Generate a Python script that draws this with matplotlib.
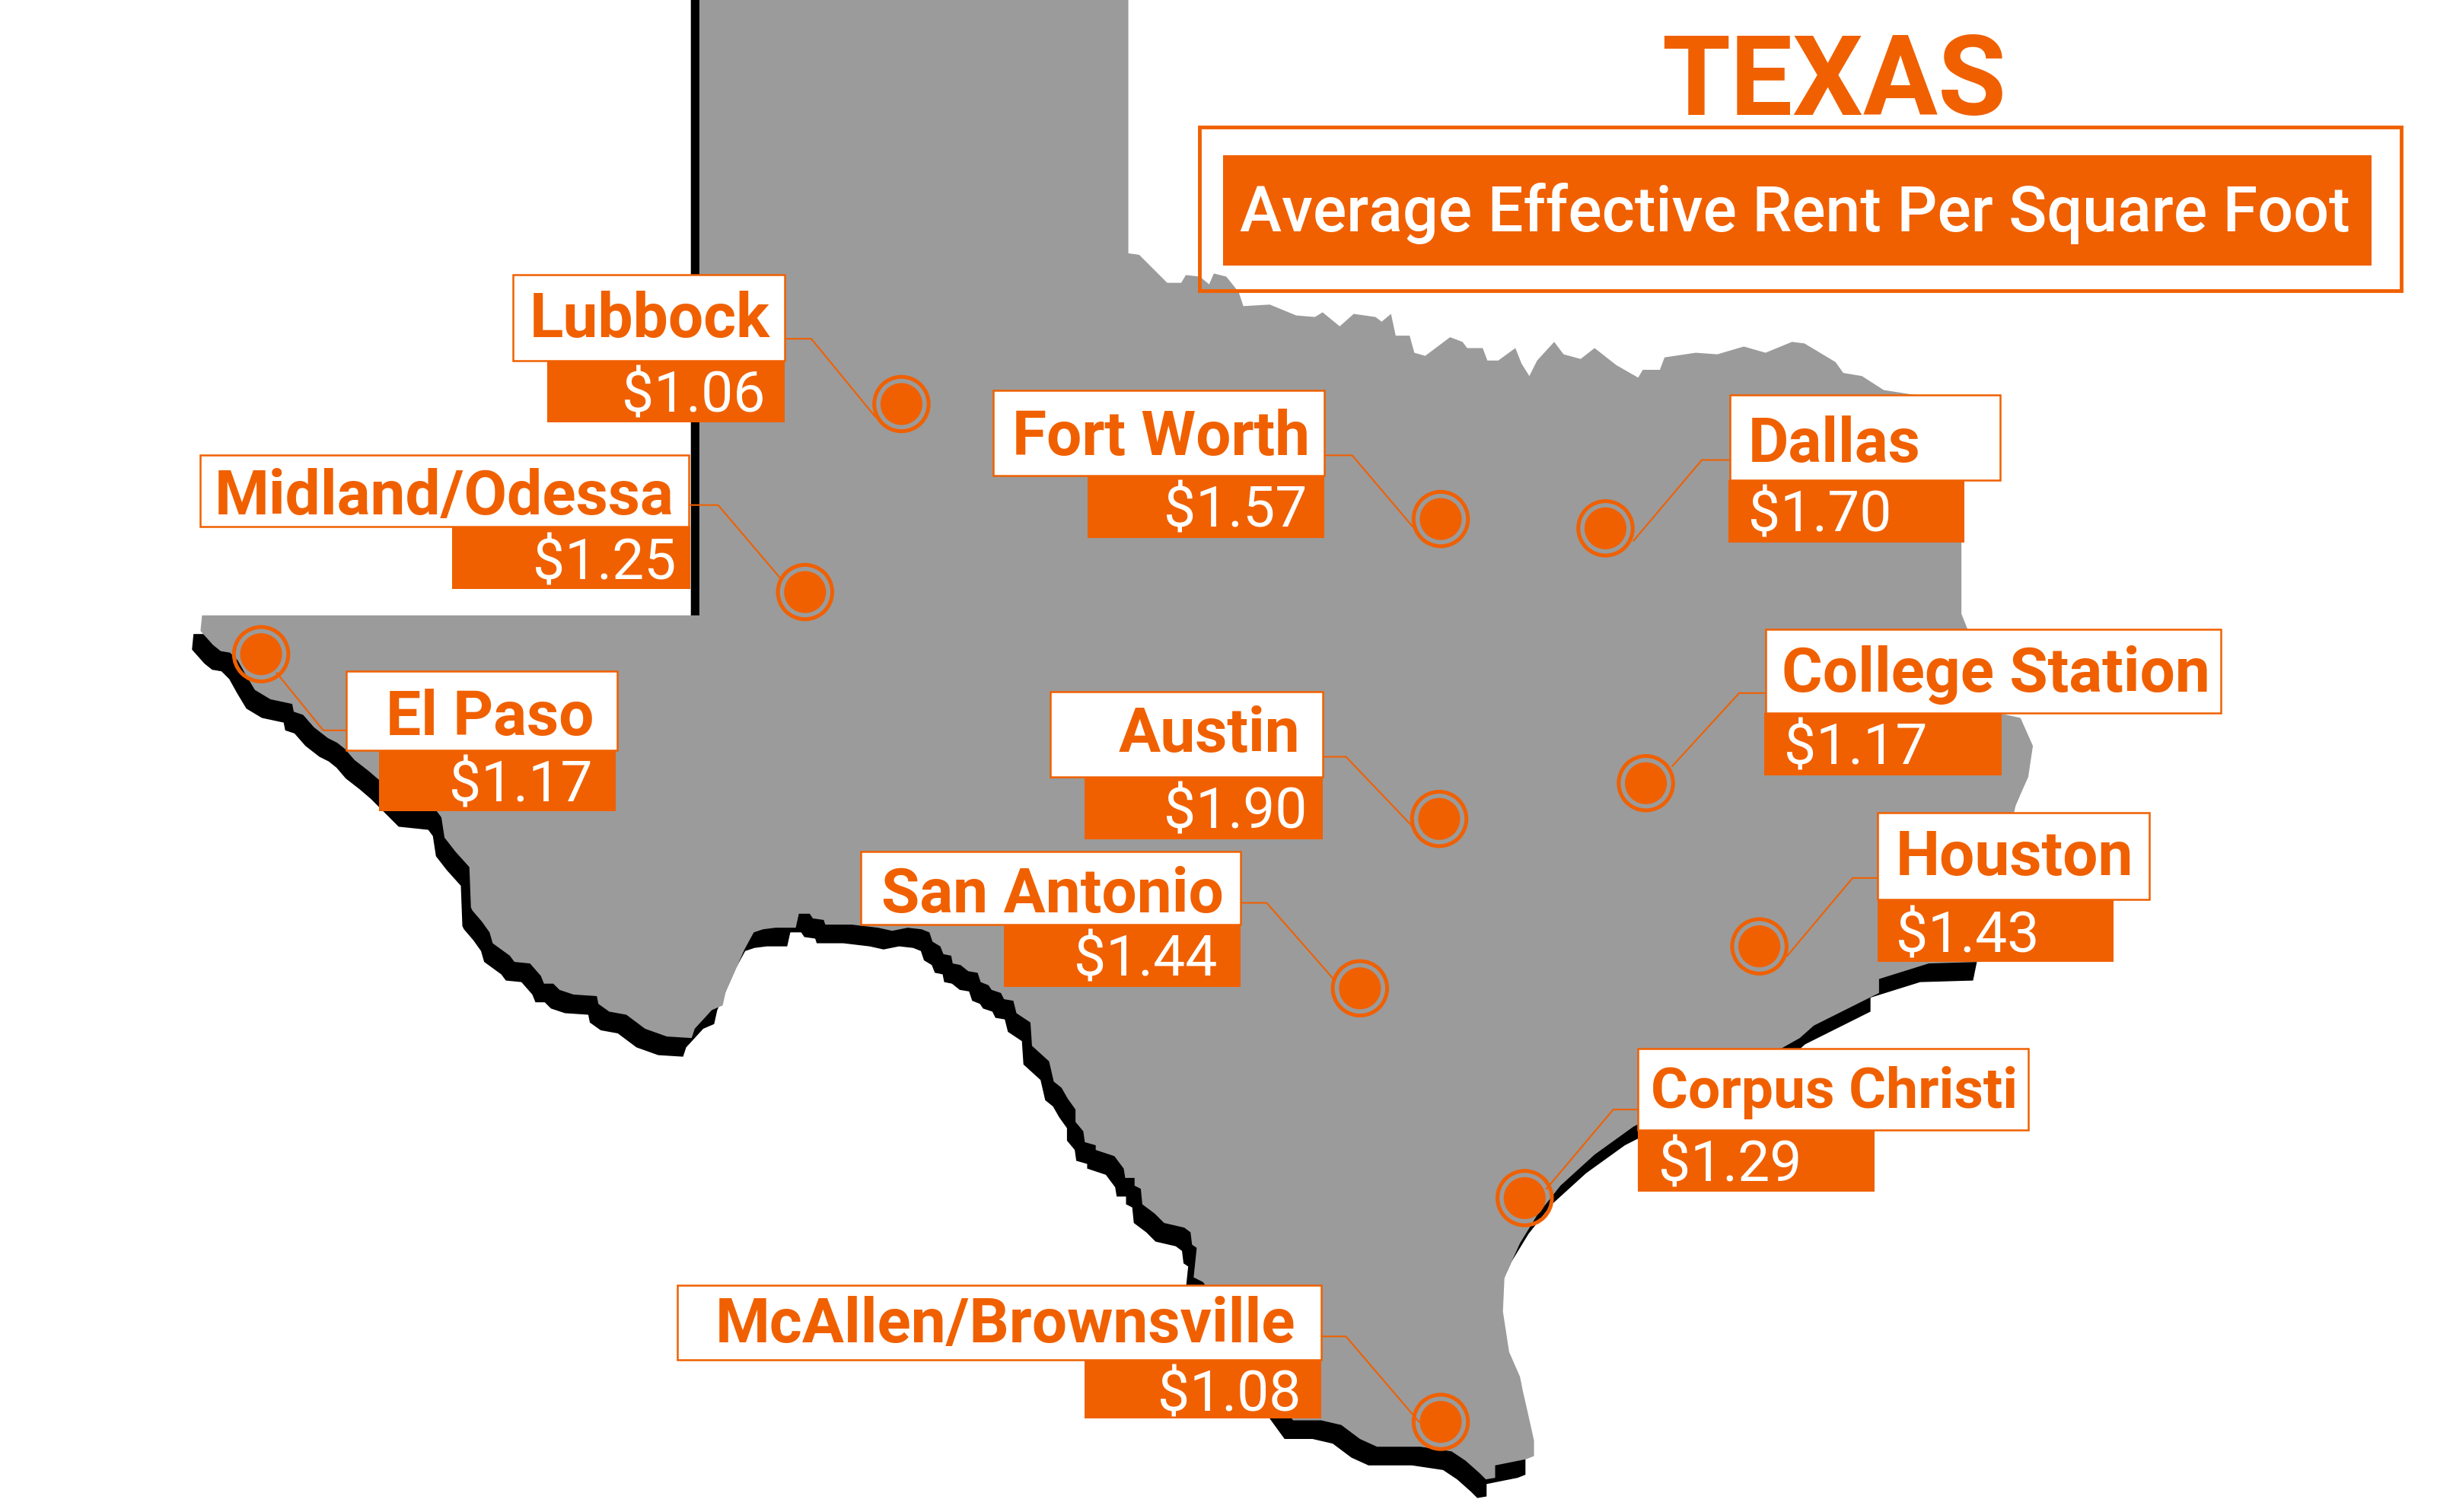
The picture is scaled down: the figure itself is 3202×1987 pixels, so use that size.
import matplotlib
matplotlib.use('Agg')
import matplotlib.pyplot as plt
from matplotlib.patches import Polygon, Rectangle, Circle

ORANGE = '#F06000'
GRAY = '#9B9B9B'

# cities and rents
cities = ['Lubbock', 'Fort Worth', 'Dallas', 'Midland/Odessa', 'El Paso', 'Austin',
          'College Station', 'San Antonio', 'Houston', 'Corpus Christi', 'McAllen/Brownsville']
rents = [1.06, 1.57, 1.70, 1.25, 1.17, 1.90, 1.17, 1.44, 1.43, 1.29, 1.08]

# where the cities sit on the map
city_x = [580, 927, 1033, 518, 168, 926, 1059, 875, 1132, 981, 927]
city_y = [260, 334, 340, 381, 421, 527, 504, 636, 609, 771, 915]

# label boxes, white part then orange part
name_box = [(330, 177, 505, 232), (639, 251, 852, 306), (1113, 254, 1287, 309),
            (129, 293, 443, 339), (223, 432, 397, 483), (676, 445, 851, 500),
            (1136, 405, 1429, 459), (554, 548, 798, 595), (1208, 523, 1383, 579),
            (1054, 675, 1305, 727), (436, 827, 850, 875)]
value_box = [(352, 232, 505, 272), (700, 306, 852, 346), (1112, 309, 1264, 349),
             (291, 339, 444, 379), (244, 483, 396, 522), (698, 500, 851, 540),
             (1135, 459, 1288, 499), (646, 595, 798, 635), (1208, 579, 1360, 619),
             (1054, 727, 1206, 767), (698, 875, 850, 913)]
name_pos = [(418, 217), (747, 293), (1180, 297), (286, 331), (315, 473), (778, 484),
            (1284, 445), (677, 587), (1296, 563), (1180, 713), (647, 864)]
value_pos = [(446, 265), (795, 339), (1171, 342), (389, 373), (335, 516), (795, 533),
             (1194, 492), (737, 628), (1266, 613), (1113, 760), (791, 908)]
# leader lines: box edge, elbow, end at the ring
leader_start = [(505, 218), (852, 293), (1112, 296), (444, 325), (222, 470), (851, 487),
                (1135, 446), (798, 581), (1208, 565), (1054, 714), (850, 860)]
leader_elbow = [(522, 218), (870, 293), (1095, 296), (462, 325), (208, 470), (866, 487),
                (1119, 446), (815, 581), (1192, 565), (1038, 714), (866, 860)]
leader_end = [(563, 268), (909, 339), (1051, 348), (502, 372), (178, 433), (908, 531),
              (1076, 493), (858, 630), (1150, 615), (995, 765), (913, 915)]

# Texas outline, traced clockwise from the top of the panhandle
north_edge = [(450, -30), (726, -30), (726, 163), (733, 164), (741, 172), (751, 182), (760, 182),
              (763, 177), (772, 178), (778, 183), (781, 176), (789, 178), (797, 188), (800, 197),
              (817, 196), (834, 203), (846, 204), (851, 201), (862, 210), (871, 202), (885, 204),
              (889, 207), (895, 202), (898, 216), (907, 216), (910, 227), (917, 229), (933, 217),
              (941, 220), (944, 224), (954, 224), (957, 232), (964, 232), (975, 224), (979, 234),
              (984, 242), (989, 232), (1000, 220), (1006, 228), (1017, 231), (1026, 224),
              (1040, 235), (1054, 243), (1057, 238), (1068, 238), (1071, 230), (1091, 227),
              (1105, 228), (1122, 223), (1136, 227), (1153, 220), (1161, 221), (1181, 233),
              (1186, 240), (1198, 242), (1212, 251), (1231, 254), (1262, 256)]
east_edge = [(1262, 395), (1268, 410), (1275, 430), (1282, 458), (1300, 462), (1308, 480),
             (1305, 500), (1297, 518), (1285, 570), (1275, 619)]
coast = [(1241, 620), (1209, 630), (1209, 639), (1203, 642), (1167, 660), (1158, 668), (1110, 695),
         (1051, 725), (1026, 743), (1004, 763), (989, 782), (978, 800), (968, 822), (967, 844),
         (971, 870), (978, 886), (980, 896), (983, 909), (987, 927), (987, 937), (982, 939),
         (962, 943), (962, 951), (956, 952), (952, 948), (943, 940), (934, 934), (914, 931),
         (886, 931), (875, 926), (863, 917), (850, 914), (832, 914)]
rio_grande = [(800, 870), (785, 840), (774, 825), (768, 822), (770, 803), (767, 801), (766, 793),
              (762, 790), (749, 787), (743, 781), (735, 775), (734, 765), (730, 763), (730, 758),
              (724, 758), (723, 752), (717, 744), (705, 740), (705, 737), (698, 735), (697, 728),
              (692, 722), (692, 714), (687, 707), (683, 700), (678, 696), (675, 683), (664, 673),
              (663, 658), (654, 652), (652, 644), (646, 643), (644, 639), (638, 637), (636, 634),
              (631, 632), (629, 626), (623, 625), (618, 621), (613, 620), (612, 615), (607, 614),
              (605, 609), (600, 606), (598, 600), (593, 598), (584, 597), (574, 599), (565, 597),
              (548, 595), (531, 595), (530, 592), (523, 591), (521, 588), (514, 588), (512, 597),
              (499, 597), (491, 598), (485, 600), (479, 611), (472, 627), (467, 638), (465, 647),
              (458, 650), (447, 662), (445, 668), (429, 667), (415, 662), (403, 653), (392, 651),
              (385, 646), (384, 641), (369, 640), (360, 637), (356, 633), (350, 633), (348, 628),
              (341, 620), (331, 619), (328, 615), (317, 607), (315, 600), (310, 593), (304, 586),
              (303, 584), (302, 558), (293, 548), (286, 539), (284, 526), (281, 522), (262, 520),
              (244, 502), (237, 496), (228, 489), (222, 482), (217, 478), (211, 475), (202, 468),
              (195, 460), (189, 458), (188, 453), (174, 450), (164, 444), (158, 434), (153, 425),
              (148, 420), (142, 419), (137, 415), (129, 406), (130, 396)]
west_edge = [(450, 396)]
outline = north_edge + east_edge + coast + rio_grande + west_edge

plt.rcParams['font.family'] = ['Roboto', 'DejaVu Sans']

fig = plt.figure(figsize=(32.02, 19.87), dpi=100)
ax = fig.add_axes([0, 0, 1, 1])
ax.set_xlim(0, 1568)
ax.set_ylim(973, 0)
ax.axis('off')

# black copy sits behind the gray one and shows along the south west edges
shadow = [(x - 5.5, y + 12) for x, y in outline]
ax.add_patch(Polygon(shadow, closed=True, fc='black', ec='none', zorder=1))
ax.add_patch(Polygon(outline, closed=True, fc=GRAY, ec='none', zorder=2))

# title block
ax.text(1180, 74, 'TEXAS', color=ORANGE, fontsize=105, fontweight='bold', ha='center', va='baseline', zorder=6)
ax.add_patch(Rectangle((772, 82), 773, 105, fc='none', ec=ORANGE, lw=3.5, zorder=5))
ax.add_patch(Rectangle((787, 100), 739, 71, fc=ORANGE, ec='none', zorder=5))
ax.text(1155, 149, 'Average Effective Rent Per Square Foot', color='white', fontsize=59.5,
        fontweight='medium', ha='center', va='baseline', zorder=6)

for i in range(len(cities)):
    # leader line then marker
    ax.plot([leader_start[i][0], leader_elbow[i][0], leader_end[i][0]],
            [leader_start[i][1], leader_elbow[i][1], leader_end[i][1]],
            color=ORANGE, lw=1.5, zorder=4)
    ax.add_patch(Circle((city_x[i], city_y[i]), 17.5, fc='none', ec=ORANGE, lw=3.6, zorder=4))
    ax.add_patch(Circle((city_x[i], city_y[i]), 13.5, fc=ORANGE, ec='none', zorder=4))

    x0, y0, x1, y1 = name_box[i]
    ax.add_patch(Rectangle((x0, y0), x1 - x0, y1 - y0, fc='white', ec=ORANGE, lw=1.8, zorder=5))
    size = 54 if cities[i] == 'Corpus Christi' else 59
    ax.text(name_pos[i][0], name_pos[i][1], cities[i], color=ORANGE, fontsize=size,
            fontweight='bold', ha='center', va='baseline', zorder=6)

    x0, y0, x1, y1 = value_box[i]
    ax.add_patch(Rectangle((x0, y0), x1 - x0, y1 - y0, fc=ORANGE, ec='none', zorder=5))
    ax.text(value_pos[i][0], value_pos[i][1], '$%.2f' % rents[i], color='white', fontsize=54,
            ha='center', va='baseline', zorder=6)

fig.savefig('out.png', dpi=100)
